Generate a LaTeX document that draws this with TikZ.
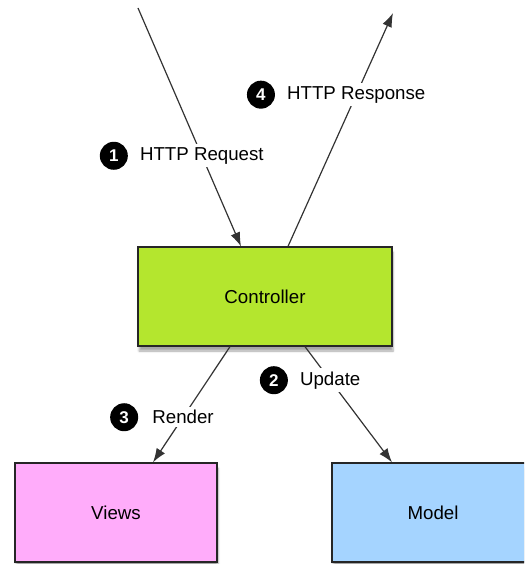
\documentclass[tikz,border=0pt]{standalone}
\usepackage{fontspec}
\setmainfont{Liberation Sans}
\usetikzlibrary{arrows.meta,positioning,shadows.blur}
\definecolor{ctrlgreen}{RGB}{180,230,46}
\definecolor{viewpink}{RGB}{255,172,250}
\definecolor{modelblue}{RGB}{165,212,255}

\begin{document}
\begin{tikzpicture}[x=1pt,y=-1pt,font=\fontsize{18.7}{22}\selectfont,
	box/.style={draw=black!85,line width=1.3pt,rectangle,minimum height=99pt,blur shadow={shadow xshift=1pt,shadow yshift=-5pt,shadow blur steps=6,shadow opacity=35}},
	flow/.style={draw=black!80,line width=1.2pt,-{Latex[length=14pt,width=10pt]}},
	tag/.style={fill=white,inner sep=3pt},
	num/.style={circle,fill=black,text=white,font=\fontsize{17}{17}\selectfont\bfseries,inner sep=0pt,minimum size=28pt}]
	\useasboundingbox (0,0) rectangle (524,564);
	\clip (0,0) rectangle (524,564);

	\node (ctrl) at (265,296.5) [box,fill=ctrlgreen,minimum width=254pt] {Controller};
	\node (views) at (116,512.5) [box,fill=viewpink,minimum width=202pt] {Views};
	\node (model) at (441,512.5) [box,fill=modelblue,minimum width=218pt] {\hspace*{-16pt}Model};

	\coordinate (reqin) at (138,8);
	\coordinate (respout) at (393,13);

	\draw[flow] (reqin) -- node[tag,pos=0.62,label={[num,label distance=8pt]left:1}] (lreq) {HTTP Request} ([xshift=-24pt]ctrl.north);
	\draw[flow] ([xshift=23pt]ctrl.north) -- node[tag,pos=0.65,label={[num,label distance=8pt]left:4}] (lresp) {HTTP Response} (respout);
	\draw[flow] ([xshift=40pt]ctrl.south) -- node[tag,pos=0.29,label={[num,label distance=8pt]left:2}] (lupd) {Update} ([xshift=-49pt]model.north);
	\draw[flow] ([xshift=-35pt]ctrl.south) -- node[tag,pos=0.61,label={[num,label distance=10pt]left:3}] (lrend) {Render} ([xshift=37pt]views.north);
\end{tikzpicture}
\end{document}
